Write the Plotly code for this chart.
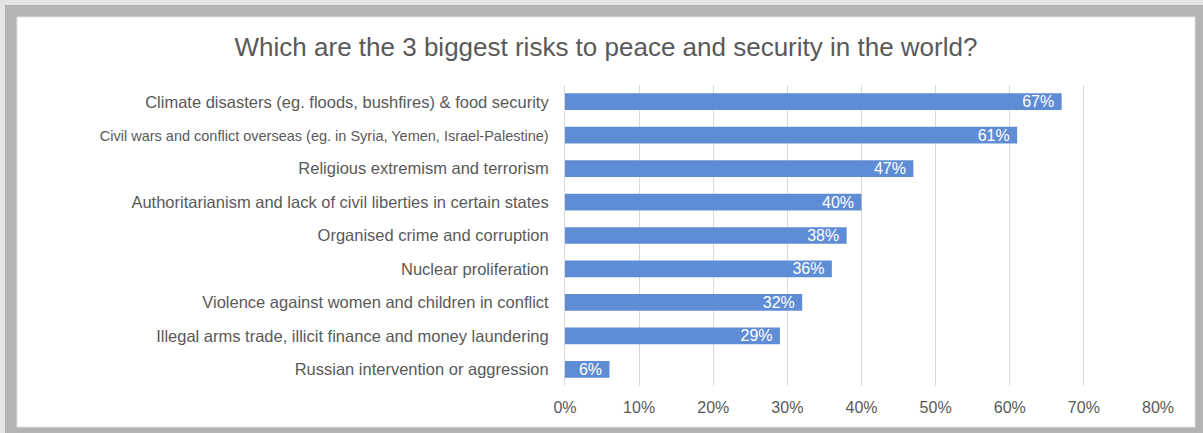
import plotly.graph_objects as go

# Survey responses, listed top to bottom as shown on the chart
risks = [
    "Climate disasters (eg. floods, bushfires) & food security",
    "Civil wars and conflict overseas (eg. in Syria, Yemen, Israel-Palestine)",
    "Religious extremism and terrorism",
    "Authoritarianism and lack of civil liberties in certain states",
    "Organised crime and corruption",
    "Nuclear proliferation",
    "Violence against women and children in conflict",
    "Illegal arms trade, illicit finance and money laundering",
    "Russian intervention or aggression",
]
share_pct = [67, 61, 47, 40, 38, 36, 32, 29, 6]

tick_vals = [0, 0.1, 0.2, 0.3, 0.4, 0.5, 0.6, 0.7, 0.8]
tick_text = ["0%", "10%", "20%", "30%", "40%", "50%", "60%", "70%", "80%"]

FONT = "Liberation Sans, Arial, sans-serif"
W, H = 1203, 433
L, R, T, B = 565, 45, 85, 47
plot_w = W - L - R
plot_h = H - T - B


def px_x(p):
    return (p - L) / plot_w


def px_y(p):
    return (H - B - p) / plot_h


# The longest category label is set slightly tighter so it fits the margin
cat_text = [
    f'<span style="font-size:14.5px">{r}</span>' if len(r) > 65 else r
    for r in risks
]

fig = go.Figure(
    go.Bar(
        x=[v / 100 for v in share_pct],
        y=risks,
        orientation="h",
        marker=dict(color="#5f8dd5", line=dict(width=0)),
        text=[f"{v}%\u00a0" for v in share_pct],
        textposition="inside",
        insidetextanchor="end",
        constraintext="none",
        textfont=dict(family=FONT, size=16, color="#ffffff"),
        cliponaxis=False,
        hoverinfo="skip",
    )
)

# Framed card: outer grey border with a white panel inside
fig.add_shape(
    type="rect", xref="paper", yref="paper", layer="below",
    x0=px_x(5), x1=px_x(W + 2), y0=px_y(H + 2), y1=px_y(5),
    fillcolor="#b3b3b3", line=dict(width=0),
)
fig.add_shape(
    type="rect", xref="paper", yref="paper", layer="below",
    x0=px_x(17), x1=px_x(1195), y0=px_y(427), y1=px_y(17),
    fillcolor="#ffffff", line=dict(color="#e2e2e2", width=1),
)

fig.update_layout(
    width=W,
    height=H,
    margin=dict(l=L, r=R, t=T, b=B, pad=0),
    paper_bgcolor="#e3e3e3",
    plot_bgcolor="rgba(0,0,0,0)",
    bargap=0.5,
    showlegend=False,
    font=dict(family=FONT, color="#595959"),
    title=dict(
        text="Which are the 3 biggest risks to peace and security in the world?",
        x=606 / W,
        xanchor="center",
        y=1 - 47 / H,
        yanchor="middle",
        font=dict(size=26, color="#595959"),
    ),
    xaxis=dict(
        range=[0, 0.8],
        tickvals=tick_vals,
        ticktext=tick_text,
        showgrid=True,
        gridcolor="#d9d9d9",
        gridwidth=1,
        zeroline=False,
        showline=False,
        ticks="",
        tickfont=dict(size=16, color="#595959"),
        ticklabelstandoff=10,
        fixedrange=True,
    ),
    yaxis=dict(
        categoryorder="array",
        categoryarray=risks[::-1],
        tickmode="array",
        tickvals=risks,
        ticktext=cat_text,
        showgrid=False,
        zeroline=False,
        showline=True,
        linecolor="#d9d9d9",
        linewidth=1,
        ticks="",
        tickfont=dict(size=16.5, color="#595959"),
        ticklabelstandoff=12,
        fixedrange=True,
    ),
)

fig.write_html("out.html", config={"displayModeBar": False})
